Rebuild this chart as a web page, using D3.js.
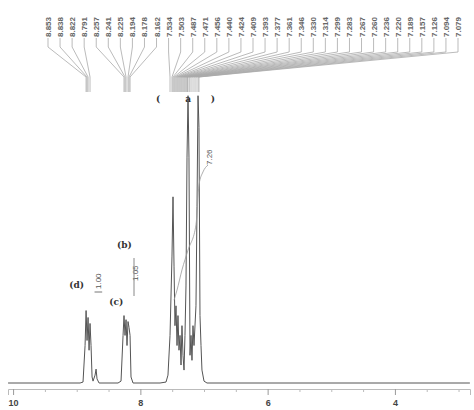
<!DOCTYPE html>
<html>
<head>
<meta charset="utf-8">
<script src="https://cdn.jsdelivr.net/npm/d3@7"></script>
<style>
  body { margin: 0; background: #fff; }
  text { font-family: "Liberation Sans", Arial, sans-serif; }
</style>
</head>
<body>
<div id="chart"></div>
<script>
// ppm of the labelled peaks, per group
const peaksD = [8.853, 8.838, 8.822, 8.791];
const peaksC = [8.257, 8.241, 8.225, 8.194, 8.178, 8.162];
const peaksA = [7.534, 7.503, 7.487, 7.471, 7.456, 7.440, 7.424, 7.409, 7.393, 7.377,
                7.361, 7.346, 7.330, 7.314, 7.299, 7.283, 7.267, 7.260, 7.236, 7.220,
                7.189, 7.157, 7.126, 7.094, 7.079];

// spectrum trace: ppm / intensity
const tracePpm = [10.079, 8.948, 8.901, 8.869, 8.853, 8.838, 8.822, 8.806, 8.791, 8.775, 8.759, 8.744,
                  8.712, 8.696, 8.681, 8.649,
                  8.351, 8.304, 8.272, 8.257, 8.241, 8.225, 8.210, 8.194, 8.178, 8.162, 8.147, 8.115,
                  7.691, 7.597, 7.566, 7.534, 7.503, 7.487, 7.471, 7.456, 7.440, 7.424, 7.409, 7.393,
                  7.377, 7.361, 7.346, 7.330, 7.314, 7.299, 7.283, 7.267, 7.251, 7.236, 7.220, 7.204,
                  7.189, 7.173, 7.157, 7.126, 7.110, 7.094, 7.079, 7.063, 7.047, 7.032, 7.000, 6.953, 2.822];
const traceInt = [0, 0, 0.3, 11.9, 23.0, 13.5, 20.8, 10.4, 18.9, 11.9, 1.9, 0.6,
                  2.5, 4.4, 1.3, 0,
                  0, 0.6, 15.1, 21.4, 15.1, 20.1, 11.9, 19.5, 17.6, 15.1, 1.9, 0,
                  0, 0.3, 2.5, 15.1, 40.3, 59.1, 37.1, 18.2, 24.5, 11.9, 21.4, 10.4,
                  15.1, 5.7, 18.2, 8.8, 4.1, 15.1, 30.8, 71.7, 91.2, 71.7, 8.8, 15.1,
                  7.2, 18.2, 11.9, 24.5, 56.0, 91.2, 81.1, 21.4, 11.9, 4.1, 0.6, 0, 0];

// integral curve over group (a)
const integralPpm = [7.471, 7.424, 7.346, 7.251, 7.126, 7.079, 7.016, 6.937];
const integralVal = [26.3, 29.5, 35.9, 42.2, 50.2, 62.9, 67.0, 69.2];

const majorTicks = [10, 8, 6, 4];
const minorTicks = [9.5, 9, 8.5, 7.5, 7, 6.5, 5.5, 5, 4.5, 3.5, 3];

const width = 474, height = 410;

const svg = d3.select('#chart')
  .append('svg')
  .attr('width', width)
  .attr('height', height);

const x = d3.scaleLinear().domain([10.08, 2.82]).range([8, 470]);
const y = d3.scaleLinear().domain([0, 100]).range([383, 68]);

// axis
const axisG = svg.append('g').attr('transform', 'translate(0,389)');
axisG.call(d3.axisBottom(x).tickValues(majorTicks).tickSize(6).tickPadding(5).tickFormat(d3.format('d')));
axisG.select('.domain').attr('stroke', '#bbb');
axisG.selectAll('.tick line').attr('stroke', '#999');
axisG.selectAll('.tick text').attr('fill', '#444').style('font-size', '9px').style('font-weight', 'bold');
const minorG = svg.append('g').attr('transform', 'translate(0,389)');
minorG.call(d3.axisBottom(x).tickValues(minorTicks).tickSize(3).tickFormat(''));
minorG.select('.domain').remove();
minorG.selectAll('.tick line').attr('stroke', '#bbb');

// spectrum
const trace = tracePpm.map((p, i) => [p, traceInt[i]]);
svg.append('path')
  .datum(trace)
  .attr('fill', 'none')
  .attr('stroke', '#555')
  .attr('stroke-width', 1)
  .attr('d', d3.line().x(d => x(d[0])).y(d => y(d[1])));

// integral
const integral = integralPpm.map((p, i) => [p, integralVal[i]]);
svg.append('path')
  .datum(integral)
  .attr('fill', 'none')
  .attr('stroke', '#999')
  .attr('stroke-width', 0.8)
  .attr('d', d3.line().curve(d3.curveMonotoneX).x(d => x(d[0])).y(d => y(d[1])));

// top peak labels with leaders
const labels = [
  ...peaksD.map(p => ({ p, bend: 47 })),
  ...peaksC.map(p => ({ p, bend: 47 })),
  ...peaksA.map(p => ({ p, bend: 52 }))
];
const lx = d3.scalePoint().domain(d3.range(labels.length)).range([48, 458]);

const leader = d3.line();
svg.append('g').selectAll('path')
  .data(labels)
  .join('path')
  .attr('fill', 'none')
  .attr('stroke', '#aaa')
  .attr('stroke-width', 0.8)
  .attr('d', (d, i) => leader([[lx(i), 38], [lx(i), d.bend], [x(d.p), 77], [x(d.p), 92]]));

svg.append('g').selectAll('text')
  .data(labels)
  .join('text')
  .attr('transform', (d, i) => `translate(${lx(i) + 3},37) rotate(-90)`)
  .attr('fill', '#666')
  .style('font-size', '8px')
  .style('font-weight', 'bold')
  .text(d => d.p.toFixed(3));

// peak group annotations
const tag = (txt, p, yy, size) => svg.append('text')
  .attr('x', x(p)).attr('y', yy)
  .attr('text-anchor', 'middle')
  .attr('fill', '#333')
  .style('font-family', '"DejaVu Serif", serif')
  .style('font-weight', 'bold')
  .style('font-size', size + 'px')
  .text(txt);

tag('(', 7.72, 102, 9);
tag('a', 7.25, 102, 9);
tag(')', 6.86, 102, 9);
tag('(d)', 9.0, 288, 9);
tag('(c)', 8.38, 305, 9);
tag('(b)', 8.25, 248, 9);

// integral values
const intLabel = (txt, p, yy) => svg.append('text')
  .attr('transform', `translate(${x(p)},${yy}) rotate(-90)`)
  .attr('fill', '#555')
  .style('font-size', '8px')
  .text(txt);

intLabel('1.00', 8.62, 289);
intLabel('1.05', 8.04, 281);
intLabel('7.26', 6.88, 165);

svg.append('line')
  .attr('x1', x(8.72)).attr('x2', x(8.60))
  .attr('y1', 292).attr('y2', 292)
  .attr('stroke', '#777');
svg.append('line')
  .attr('x1', x(8.1)).attr('x2', x(8.1))
  .attr('y1', 258).attr('y2', 296)
  .attr('stroke', '#888');
</script>
</body>
</html>
